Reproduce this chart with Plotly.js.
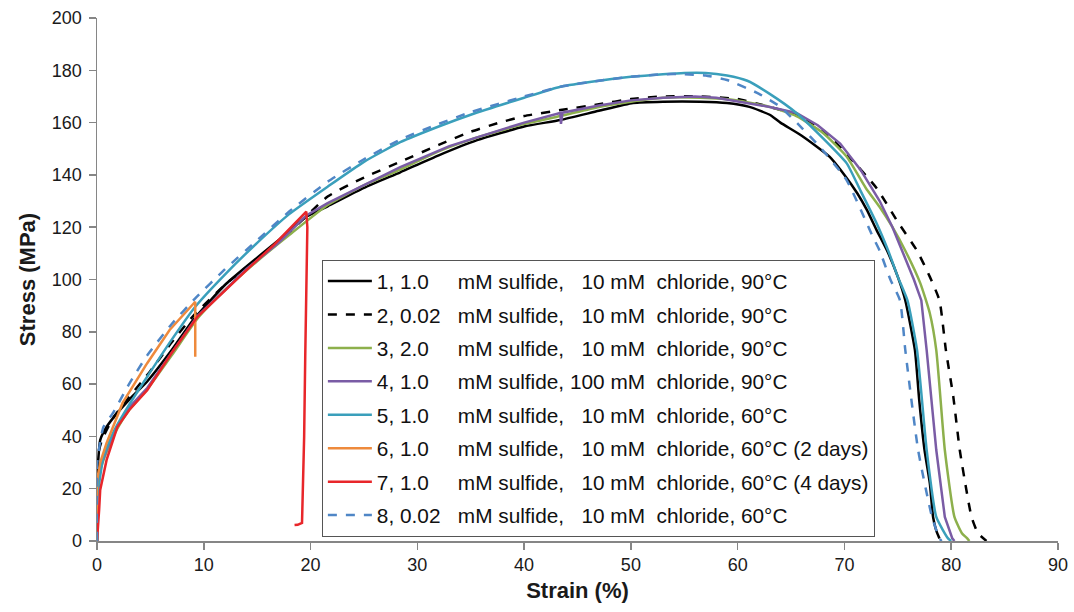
<!DOCTYPE html>
<html>
<head>
<meta charset="utf-8">
<script src="https://cdn.plot.ly/plotly-3.0.1.min.js"></script>
<style>html,body{margin:0;padding:0;background:#fff;}#chart{width:1074px;height:612px;}</style>
</head>
<body>
<div id="chart"></div>
<script>
// ---- data (strain %, stress MPa) ----
const names = [
  "1,\u00A01.0\u2007\u00A0\u00A0\u00A0mM sulfide,\u00A0\u00A0\u00A010 mM\u00A0\u00A0chloride, 90°C",
  "2,\u00A00.02\u00A0\u00A0\u00A0mM sulfide,\u00A0\u00A0\u00A010 mM\u00A0\u00A0chloride, 90°C",
  "3,\u00A02.0\u2007\u00A0\u00A0\u00A0mM sulfide,\u00A0\u00A0\u00A010 mM\u00A0\u00A0chloride, 90°C",
  "4,\u00A01.0\u2007\u00A0\u00A0\u00A0mM sulfide,\u00A0100 mM\u00A0\u00A0chloride, 90°C",
  "5,\u00A01.0\u2007\u00A0\u00A0\u00A0mM sulfide,\u00A0\u00A0\u00A010 mM\u00A0\u00A0chloride, 60°C",
  "6,\u00A01.0\u2007\u00A0\u00A0\u00A0mM sulfide,\u00A0\u00A0\u00A010 mM\u00A0\u00A0chloride, 60°C (2 days)",
  "7,\u00A01.0\u2007\u00A0\u00A0\u00A0mM sulfide,\u00A0\u00A0\u00A010 mM\u00A0\u00A0chloride, 60°C (4 days)",
  "8,\u00A00.02\u00A0\u00A0\u00A0mM sulfide,\u00A0\u00A0\u00A010 mM\u00A0\u00A0chloride, 60°C"
];

const x1 = [0,0,0.1,0.3,0.8,1.5,3,4.7,7,9,12,14,17,19.6,21.6,25,28.4,32,35.6,40,43.4,47,50.2,53,56.5,59,61.1,63,64,66,68.6,70,71.2,72.1,73,74,75,75.7,76.6,77,77.5,78,78.3,78.6,78.9];
const y1 = [0,20,30,38.6,43,47,54,61,73,84.5,98,105,115,124,128,135,141,147.5,153.3,158.5,161,164.5,167.5,168,168,167.5,166,163,160,155,147,140,133,126.6,119,111,101,92,73,54,34.8,22,9.2,4,1];

const x2 = [0,0,0.2,0.5,1.5,3,5,7,9,12,15,18,21.6,25,28.4,32,35,37.7,40,43.4,47,50,53,56.5,60,63,65.5,68,70.2,73,75,76.8,78,78.9,79.5,80.2,80.8,81.4,81.9,82.5,83.3];
const y2 = [0,28,35,39,47,55,65,76,86,98,108,118,131.7,139,145,151.5,156.5,160,162.5,164.8,167,169,170,170,169,166,163,157,148,135,122,111,101,92,73,55,34.8,20,9.2,3,0];

const x3 = [0,0,0.3,0.9,1.9,3,4.7,7,9.4,12,15,18,21.6,25,28.4,32,35,40,43.4,47,50,53,56.5,60,63,65.5,68,70.2,72,73.3,74.5,75.7,77.1,78,78.6,79.4,80.3,81,81.5,81.7];
const y3 = [0,18,27,34,43,50,58,71,85,96,107,117,128.5,136,142,149,153.5,159.5,162.5,166,168,169.5,169.5,168.5,166,162.5,156,147,135,127.7,120,111,98.6,87,73,34.8,9.2,3,1,0];

const x4 = [0,0,0.3,0.9,1.9,3,4.7,7,9.4,12,14,17,19.6,21.6,25,28.4,33,37.7,40,43.2,43.4,43.45,43.6,47,50,53,56,58,60.9,63,65.5,67.5,69.6,71.5,73.3,74.5,75.4,76.5,77.2,77.7,78.6,79.4,80.1,80.3];
const y4 = [0,18,28,35,44,51,58.5,72,86,96,104,114,124.5,129.2,136,143,151,157,160,163.5,163.7,159.5,163.8,166.5,168.5,169.5,170,169.5,167.5,166,163.7,159,152,142,130,120,111,100,92,73,34.8,9.2,1,0];

const x5 = [0,0,0.2,0.6,1.5,3,4.7,7,9.2,12,15,18,21.6,25,28.4,32,35,40,43.4,47,50,53,55,57,59,60.9,63,65.5,68,70.2,71.5,73,74.1,75,75.9,76.8,77.7,78.6,79.7,80];
const y5 = [0,15,22,32,41.3,52,62.8,77,89.6,102,114,125,135.5,145,152.5,158.5,163,169.5,173.7,176,177.5,178.5,179,179,178,176,171,163.7,154,144.5,134,121.6,111,101,92,73,34.8,9.2,1,0];

const x6 = [0,0,0.3,0.9,2.4,4.7,6.8,9.2,9.2];
const y6 = [0,23,30,37.5,52.8,68,80.7,91.5,70.5];

const x7 = [0,0.1,0.2,0.3,0.9,1.9,3,4.7,7,9.4,12,14,16.5,18.7,19.6,19.7,19.6,19.5,19.4,19.3,19.2,18.8,18.5];
const y7 = [0,5,12,19.5,31,43.6,50,57.7,72,85.7,96,103.6,113,122,126,120,100,70,40,20,6.9,6.2,6.1];

const x8 = [0,0,0.3,0.6,1.5,3,4.7,7,9.2,12,15,18,21.6,25,28.4,32,35,40,43.4,47,50,53,55,57,59,62,64,66,67.7,70.2,72.7,73.3,74.3,75.2,75.7,76.9,78.2,78.9,79.1];
const y8 = [0,29,38,43.6,49,60,71,83,92.8,104,115,126,137.4,146,153.5,159.5,164,170,173.7,176,177.5,178.5,178.5,178,176.3,171,166,158,150.7,138,116,111,100,92,73,34.8,9.2,1,0];

const xTicks = [0,10,20,30,40,50,60,70,80,90];
const yTicks = [0,20,40,60,80,100,120,140,160,180,200];

// ---- styles ----
const colors = ['#000000','#000000','#8db04c','#7a5ca5','#3a9fbb','#ee8a3c','#e8262a','#4f86c6'];
const dashes = ['solid','dash','solid','solid','solid','solid','solid','dash'];
const shapes = ['spline','spline','spline','linear','spline','linear','linear','spline'];
const xs = [x1,x2,x3,x4,x5,x6,x7,x8];
const ys = [y1,y2,y3,y4,y5,y6,y7,y8];

const traces = xs.map((x,i)=>({
  x: x, y: ys[i], name: names[i], type:'scatter', mode:'lines',
  legendgroup: 'g'+i,
  line: {color: colors[i], width: 2.5, dash: dashes[i], shape: shapes[i], smoothing: 0.5}
}));

const font = "'Liberation Sans', Arial, sans-serif";
const layout = {
  width:1074, height:612,
  margin:{l:97, r:16, t:18, b:71},
  paper_bgcolor:'#fff', plot_bgcolor:'#fff',
  font:{family:font, color:'#1a1a1a'},
  showlegend:true,
  legend:{
    x:0.234, y:0.5373, xanchor:'left', yanchor:'top',
    bgcolor:'#fff', bordercolor:'#555', borderwidth:1,
    font:{family:font, size:20.8, color:'#111'},
    tracegroupgap:3.4, itemwidth:44
  },
  xaxis:{
    range:[0,90], tickvals:xTicks, ticktext:xTicks.map(String),
    showline:true, linecolor:'#868686', linewidth:1.5,
    ticks:'outside', ticklen:7, tickwidth:1.5, tickcolor:'#868686',
    showgrid:false, zeroline:false,
    tickfont:{size:18, color:'#1a1a1a'},
    title:{text:'Strain (%)', font:{size:22, weight:'bold', color:'#1a1a1a'}, standoff:8}
  },
  yaxis:{
    range:[0,200], tickvals:yTicks, ticktext:yTicks.map(String),
    showline:true, linecolor:'#868686', linewidth:1.5,
    ticks:'outside', ticklen:7, tickwidth:1.5, tickcolor:'#868686',
    showgrid:false, zeroline:false, ticklabelstandoff:3,
    tickfont:{size:18, color:'#1a1a1a'},
    title:{text:'Stress (MPa)', font:{size:22, weight:'bold', color:'#1a1a1a'}, standoff:10}
  }
};

Plotly.newPlot('chart', traces, layout, {displayModeBar:false, staticPlot:true});
</script>
</body>
</html>
